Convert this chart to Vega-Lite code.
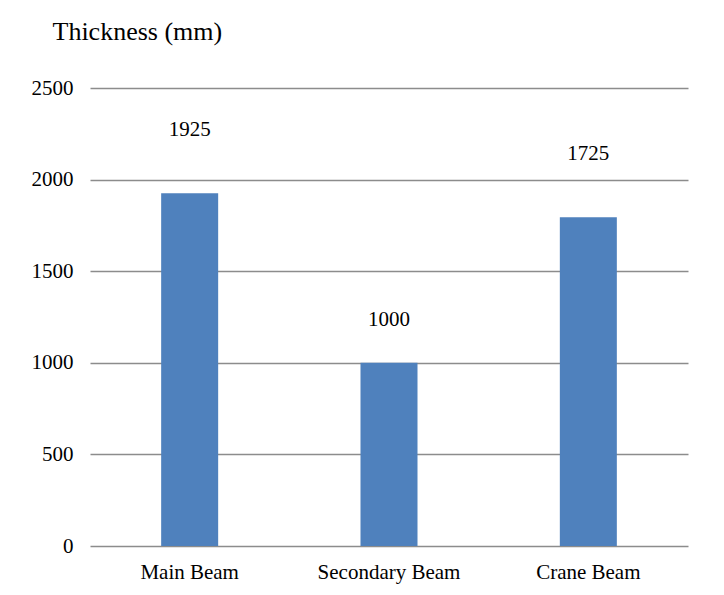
{
  "$schema": "https://vega.github.io/schema/vega-lite/v6.json",
  "width": 598,
  "height": 458,
  "autosize": "none",
  "padding": {"left": 90, "top": 88, "right": 36, "bottom": 49},
  "background": "white",
  "config": {"view": {"stroke": null}, "font": "Liberation Serif"},
  "data": {
    "values": [
      {"category": "Main Beam", "value": 1925, "label": "1925"},
      {"category": "Secondary Beam", "value": 1000, "label": "1000"},
      {"category": "Crane Beam", "value": 1795, "label": "1725"}
    ]
  },
  "encoding": {
    "x": {
      "field": "category",
      "type": "nominal",
      "sort": null,
      "scale": {"paddingInner": 0.714, "paddingOuter": 0.357},
      "axis": {
        "title": null,
        "labelAngle": 0,
        "labelFontSize": 21,
        "labelColor": "#000000",
        "labelPadding": 15,
        "domain": false,
        "ticks": false
      }
    },
    "y": {
      "field": "value",
      "type": "quantitative",
      "scale": {"domain": [0, 2500]},
      "axis": {
        "values": [0, 500, 1000, 1500, 2000, 2500],
        "format": "d",
        "title": "Thickness (mm)",
        "titleAngle": 0,
        "titleAlign": "left",
        "titleBaseline": "alphabetic",
        "titleX": -38,
        "titleY": -49,
        "titleFontSize": 26,
        "titleFontWeight": "normal",
        "titleColor": "#000000",
        "labelFontSize": 21,
        "labelColor": "#000000",
        "labelPadding": 17,
        "domain": false,
        "ticks": false,
        "grid": true,
        "gridColor": "#8c8c8c",
        "gridWidth": 1.6
      }
    }
  },
  "layer": [
    {"mark": {"type": "bar", "color": "#4F81BD"}},
    {
      "transform": [{"filter": "datum.category !== 'Secondary Beam'"}],
      "mark": {"type": "text", "fontSize": 21, "color": "#000000", "baseline": "middle", "dy": -63},
      "encoding": {"text": {"field": "label"}}
    },
    {
      "transform": [{"filter": "datum.category === 'Secondary Beam'"}],
      "mark": {"type": "text", "fontSize": 21, "color": "#000000", "baseline": "middle", "dy": -43},
      "encoding": {"text": {"field": "label"}}
    }
  ]
}
